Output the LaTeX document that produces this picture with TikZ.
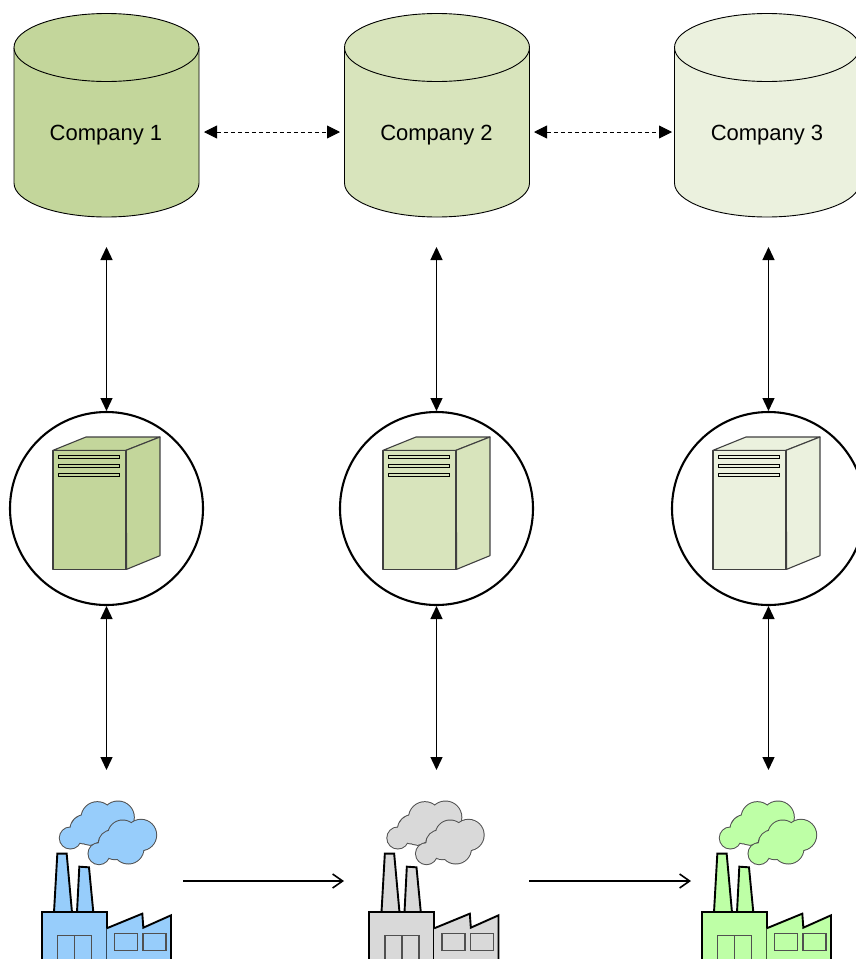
\documentclass[tikz,border=0pt]{standalone}
\usepackage{fontspec}
\setmainfont{Liberation Sans}
\usetikzlibrary{arrows.meta}
\definecolor{gA}{HTML}{C3D69B}
\definecolor{gB}{HTML}{D8E4BC}
\definecolor{gC}{HTML}{EBF1DE}
\definecolor{fA}{HTML}{97CDFB}
\definecolor{fB}{HTML}{D9D9D9}
\definecolor{fC}{HTML}{BEFFA6}
\definecolor{soft}{HTML}{505050}
\tikzset{
  x=1pt,y=-1pt,
  hub/.style={circle,draw=black,line width=2.1pt,fill=white,minimum size=193pt,inner sep=0pt,outer sep=1pt},
  label text/.style={font=\fontsize{22}{26}\selectfont,text=black},
  link/.style={line width=1.4pt,{Triangle[length=13pt,width=12pt]}-{Triangle[length=13pt,width=12pt]}},
  peer/.style={line width=0.9pt,dash pattern=on 4pt off 3pt,{Triangle[length=13pt,width=13pt]}-{Triangle[length=13pt,width=13pt]}},
  flow/.style={line width=2pt,-{Straight Barb[length=10pt,width=14pt,line width=1.6pt]}},
  heavy/.style={draw=black,line width=1.9pt,line join=miter},
  thin part/.style={draw=soft,line width=1.5pt},
  srvline/.style={draw=black!75,line width=1.1pt,line join=round},
}
% rear and front cloud: every lobe stroked, then every lobe filled slightly smaller
\newcommand{\lobes}[3]{% list, options, radius change in zoom units
  \foreach \lx/\ly/\lrad in #1 {
    \pgfmathsetmacro{\lrr}{\lrad+(#3)}
    \path[#2] (\lx,\ly) circle[radius=\lrr];
  }}
\def\rearcloud{211/174/33,254/148/44,292/114/49,354/112/49,270/160/36,305/150/40}
\def\frontcloud{297/221/33,345/195/44,385/205/47,368/165/45,423/165/47,335/190/40,375/190/40}
\newcommand{\dbcyl}[2]{% x offset, fill
  \begin{scope}[xshift=#1pt]
    \draw[fill=#2,line width=0.9pt] (14,47.5) -- (14,183) arc[x radius=92.5,y radius=34,start angle=180,end angle=0] -- (199,47.5);
    \draw[fill=#2,line width=0.9pt] (106.5,47.5) ellipse[x radius=92.5,y radius=34];
  \end{scope}}
\newcommand{\srv}[2]{% x offset, fill
  \begin{scope}[shift={(#1,400)},x=0.3333pt,y=-0.3333pt]
    \draw[fill=#2,srvline] (159,151) -- (258,111) -- (480,111) -- (378,151) -- cycle;
    \draw[fill=#2,srvline] (378,151) -- (480,111) -- (480,467) -- (380,508) -- cycle;
    \draw[fill=#2,srvline] (159,151) rectangle (378,508);
    \foreach \yy in {167,193,220}
      \draw[fill=#2,draw=black,line width=0.9pt] (175,\yy) rectangle (357,\yy+8);
  \end{scope}}
\newcommand{\plant}[2]{% x offset, fill
  \begin{scope}[shift={(#1,780)},x=0.3333pt,y=-0.3333pt]
    \lobes{\rearcloud}{fill=soft}{1.5}
    \lobes{\rearcloud}{fill=#2}{-1.5}
    \lobes{\frontcloud}{fill=soft}{1.5}
    \lobes{\frontcloud}{fill=#2}{-1.5}
    \draw[fill=#2,heavy] (162,397) -- (172,221) -- (200,221) -- (216,397) -- cycle;
    \draw[fill=#2,heavy] (231,397) -- (238,260) -- (267,262) -- (280,397) -- cycle;
    \draw[fill=#2,heavy] (125,600) -- (125,397) -- (320,397) -- (320,600);
    \draw[fill=#2,heavy] (320,445) -- (427,401) -- (430,443) -- (513,406) -- (513,600) -- (320,600);
    \draw[thin part] (173,600) -- (173,467) -- (274,467) -- (274,600);
    \draw[thin part] (223,467) -- (223,600);
    \draw[thin part,fill=#2] (344,461) rectangle (412,511);
    \draw[thin part,fill=#2] (429,461) rectangle (498,511);
  \end{scope}}
\begin{document}
\begin{tikzpicture}
\useasboundingbox (0,0) rectangle (856,959);
\clip (0,0) rectangle (856,959);
\fill[white] (0,0) rectangle (856,959);
\dbcyl{0}{gA}\dbcyl{330.5}{gB}\dbcyl{660.5}{gC}
\node[label text] (c1) at (106,135.5) {Company 1};
\node[label text] (c2) at (436.5,135.5) {Company 2};
\node[label text] (c3) at (767,135.5) {Company 3};
\node[hub] (h1) at (106.5,508.5) {};
\node[hub] (h2) at (436.5,508.5) {};
\node[hub] (h3) at (768.5,508.5) {};
\srv{0}{gA}\srv{330}{gB}\srv{660}{gC}
\plant{0}{fA}\plant{327.5}{fB}\plant{660}{fC}
\coordinate (a1) at (106.5,247); \coordinate (a2) at (436.5,247); \coordinate (a3) at (768.5,247);
\coordinate (b1) at (106.5,770); \coordinate (b2) at (436.5,770); \coordinate (b3) at (768.5,770);
\coordinate (p1) at (204,132); \coordinate (p2) at (340,132); \coordinate (p3) at (534,132); \coordinate (p4) at (672,132);
\coordinate (f1) at (183,881); \coordinate (f2) at (344,881); \coordinate (f3) at (529,881); \coordinate (f4) at (691,881);
\foreach \i in {1,2,3} {
  \draw[link] (a\i) -- (h\i.north);
  \draw[link] (h\i.south) -- (b\i);
}
\draw[peer] (p1) -- (p2);
\draw[peer] (p3) -- (p4);
\draw[flow] (f1) -- (f2);
\draw[flow] (f3) -- (f4);
\end{tikzpicture}
\end{document}
